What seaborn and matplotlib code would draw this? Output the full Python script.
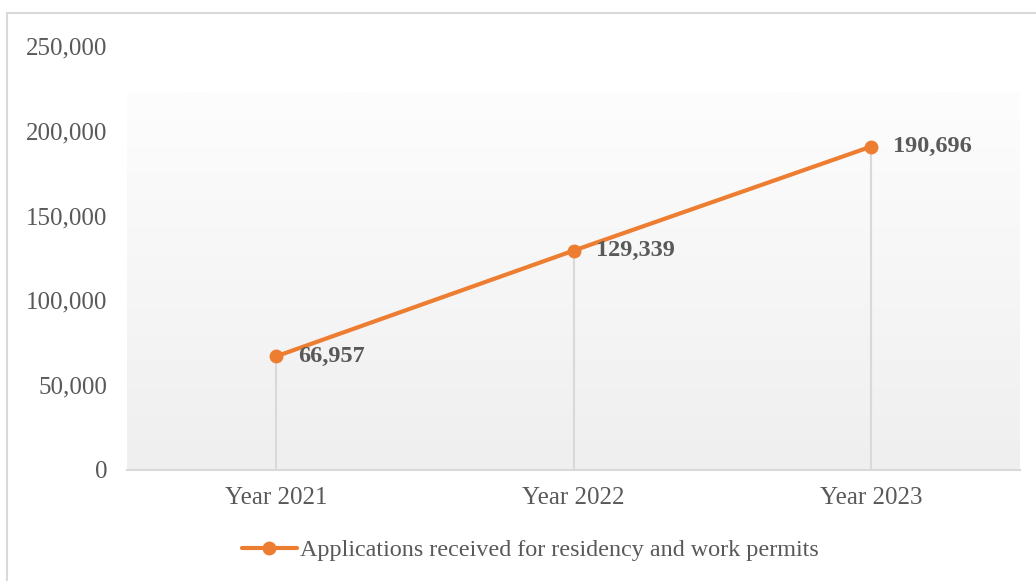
import numpy as np
import matplotlib
matplotlib.use("Agg")
import matplotlib.pyplot as plt
from matplotlib.colors import LinearSegmentedColormap
from matplotlib.patches import Rectangle
import seaborn as sns

# Data
years = ["Year 2021", "Year 2022", "Year 2023"]
applications = [66957, 129339, 190696]
series_name = "Applications received for residency and work permits"
y_ticks = [0, 50000, 100000, 150000, 200000, 250000]

orange = "#ED7D31"
text_gray = "#595959"
line_gray = "#D9D9D9"

sns.set_theme(style="white")
plt.rcParams["font.family"] = ["Liberation Serif", "DejaVu Serif"]

fig = plt.figure(figsize=(10.36, 5.81), dpi=100)
ax = fig.add_axes([127 / 1036, 1 - 470 / 581, (1020 - 127) / 1036, (470 - 46) / 581])

# outer chart border
fig.patches.append(Rectangle((7 / 1036, -0.05), 1.1, 1 - 13 / 581 + 0.05,
                             transform=fig.transFigure, fill=False,
                             edgecolor=line_gray, linewidth=1.5))

sns.lineplot(x=years, y=applications, ax=ax, color=orange, linewidth=3,
             marker="o", markersize=10, markeredgewidth=0, label=series_name,
             zorder=4, sort=False)

# gradient plot area
grad = LinearSegmentedColormap.from_list("g", ["#EFEFEF", "#FDFDFD"])
ax.imshow(np.linspace(0, 1, 256).reshape(-1, 1), cmap=grad, aspect="auto",
          extent=(-0.5, 2.5, 0, 222500), origin="lower", zorder=0)
ax.set_xlim(-0.5, 2.5)
ax.set_ylim(0, 250000)

# drop lines
ax.vlines(range(len(years)), 0, applications, color=line_gray, linewidth=1.5, zorder=2)

for i, v in enumerate(applications):
    ax.annotate(f"{v:,}", (i, v), xytext=(16, 0), textcoords="offset points",
                ha="left", va="center", fontsize=17.5, fontweight="bold",
                color=text_gray, zorder=5)

ax.set_yticks(y_ticks)
ax.set_yticklabels([f"{t:,}" for t in y_ticks])
ax.tick_params(axis="both", length=0, labelsize=18, labelcolor=text_gray)
ax.tick_params(axis="y", pad=14)
ax.tick_params(axis="x", pad=12)
ax.set_xlabel("")
ax.set_ylabel("")
ax.grid(False)
for s in ["left", "top", "right"]:
    ax.spines[s].set_visible(False)
ax.spines["bottom"].set_color(line_gray)
ax.spines["bottom"].set_linewidth(1.5)
ax.set_facecolor("white")

leg = ax.legend(loc="center", bbox_to_anchor=(530 / 1036, 1 - 550 / 581),
                bbox_transform=fig.transFigure, frameon=False, fontsize=17.4,
                handlelength=2.3, handletextpad=0.1)
for t in leg.get_texts():
    t.set_color(text_gray)

fig.savefig("out.png", dpi=100, facecolor="white")
